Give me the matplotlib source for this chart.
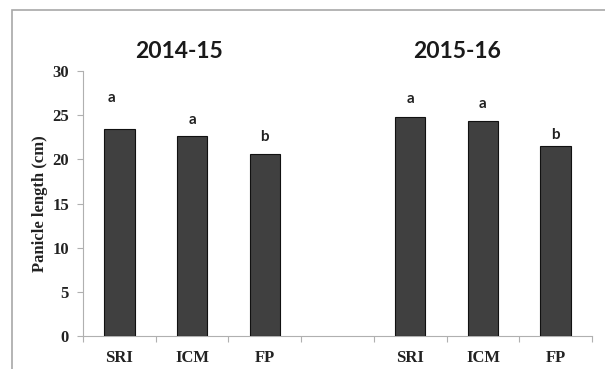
import matplotlib
matplotlib.use("Agg")
import matplotlib.pyplot as plt
from matplotlib.patches import Rectangle
import numpy as np

# Panicle length by cultivation method for two seasons
seasons = ["2014-15", "2015-16"]
methods = ["SRI", "ICM", "FP"]
values_2014 = [23.4, 22.6, 20.6]
values_2015 = [24.8, 24.3, 21.5]
letters_2014 = ["a", "a", "b"]
letters_2015 = ["a", "a", "b"]
letter_y_2014 = [26.9, 24.5, 22.5]
letter_y_2015 = [26.8, 26.3, 22.8]
y_ticks = [0, 5, 10, 15, 20, 25, 30]

fig = plt.figure(figsize=(6.05, 3.69), dpi=100)
fig.patch.set_facecolor("white")

# outer frame
fig.patches.append(Rectangle((12 / 605, -0.1), 1.2, 1 - 10 / 369 + 0.1,
                             transform=fig.transFigure, fill=False,
                             edgecolor="#a8a8a8", linewidth=1.2))

ax = fig.add_axes([83 / 605, 33 / 369, 509 / 605, 265 / 369])

# group positions with an empty slot between seasons
pos_2014 = np.arange(len(methods))
pos_2015 = np.arange(len(methods)) + len(methods) + 1
bar_w = 0.42
bar_kw = dict(width=bar_w, color="#404040", edgecolor="#111111", linewidth=0.8, zorder=3)
ax.bar(pos_2014, values_2014, **bar_kw)
ax.bar(pos_2015, values_2015, **bar_kw)

letter_font = dict(family="Lato", fontweight="bold", fontsize=11, color="#222222",
                   ha="center", va="center")
for i, (x, t, y) in enumerate(zip(pos_2014, letters_2014, letter_y_2014)):
    ax.text(x - 0.11 if i == 0 else x, y, t, **letter_font)
for x, t, y in zip(pos_2015, letters_2015, letter_y_2015):
    ax.text(x, y, t, **letter_font)

ax.set_xlim(-0.5, pos_2015[-1] + 0.5)
ax.set_ylim(0, 30)
ax.set_yticks(y_ticks)
ax.set_yticklabels([str(v) for v in y_ticks], family="Liberation Serif",
                   fontweight="bold", fontsize=12, color="#222222")
ax.set_xticks(list(pos_2014) + list(pos_2015))
ax.set_xticklabels(methods + methods, family="Liberation Serif",
                   fontweight="bold", fontsize=12, color="#222222")
ax.set_xticks(np.arange(-0.5, pos_2015[-1] + 1, 1), minor=True)
ax.tick_params(axis="x", which="major", length=0, pad=10)
ax.tick_params(axis="x", which="minor", length=4, color="#b0b0b0", width=0.8)
ax.tick_params(axis="y", length=4, color="#b0b0b0", width=0.8, pad=6)

for s in ["top", "right"]:
    ax.spines[s].set_visible(False)
for s in ["left", "bottom"]:
    ax.spines[s].set_color("#b0b0b0")
    ax.spines[s].set_linewidth(0.8)

ax.set_ylabel("Panicle length (cm)", family="Liberation Serif", fontweight="bold",
              fontsize=12, color="#222222", labelpad=3)

# season titles
title_font = dict(family="Lato", fontweight="bold", fontsize=16.5, color="#1a1a1a",
                  ha="center", va="center")
fig.text(179 / 605, 1 - 52 / 369, seasons[0], **title_font)
fig.text(457 / 605, 1 - 52 / 369, seasons[1], **title_font)

fig.savefig("out.png", dpi=100)
